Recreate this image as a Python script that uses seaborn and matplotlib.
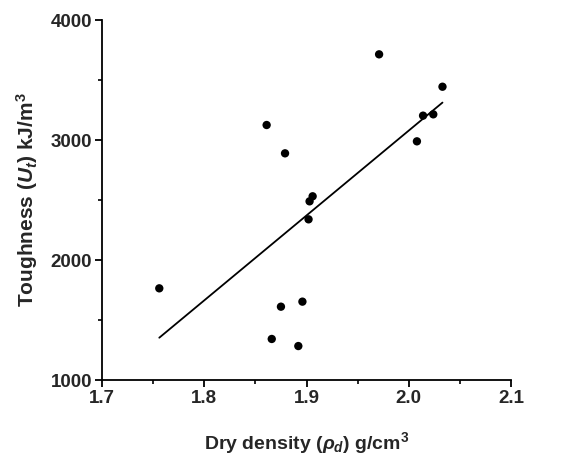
import matplotlib
matplotlib.use("Agg")
import matplotlib.pyplot as plt
from matplotlib.ticker import MultipleLocator
import seaborn as sns
import pandas as pd

dry_density = [1.756, 1.861, 1.879, 1.903, 1.906, 1.902, 1.971, 2.008,
               2.014, 2.024, 2.033, 1.875, 1.896, 1.866, 1.892]
toughness = [1764, 3125, 2889, 2489, 2531, 2339, 3714, 2989,
             3203, 3214, 3444, 1611, 1653, 1342, 1283]
x_ticks = [1.7, 1.8, 1.9, 2.0, 2.1]
y_ticks = [1000, 2000, 3000, 4000]

df = pd.DataFrame({"rho": dry_density, "U": toughness})

sns.set_theme(style="ticks")
plt.rcParams["font.family"] = ["Liberation Sans", "DejaVu Sans"]
plt.rcParams["font.weight"] = "bold"
plt.rcParams["mathtext.fontset"] = "custom"
plt.rcParams["mathtext.rm"] = "Liberation Sans:bold"
plt.rcParams["mathtext.it"] = "Liberation Sans:italic:bold"
plt.rcParams["mathtext.bf"] = "Liberation Sans:bold"

fig = plt.figure(figsize=(5.64, 4.59), dpi=100)
ax = fig.add_axes([0.1809, 0.1721, 0.906 - 0.1809, 0.9564 - 0.1721])

sns.regplot(data=df, x="rho", y="U", ax=ax, ci=None, truncate=True,
            scatter_kws=dict(s=36, color="black", edgecolor="none", alpha=1, zorder=3),
            line_kws=dict(color="black", lw=1.3))

ax.set_xlim(1.7, 2.1)
ax.set_ylim(1000, 4000)
ax.xaxis.set_minor_locator(MultipleLocator(0.05))
ax.yaxis.set_minor_locator(MultipleLocator(500))

for side in ["top", "right"]:
    ax.spines[side].set_visible(False)
for side in ["left", "bottom"]:
    ax.spines[side].set_linewidth(1.3)
    ax.spines[side].set_color("black")

ax.tick_params(which="major", direction="out", length=5, width=1.3,
               color="black", pad=2)
ax.tick_params(which="minor", direction="out", length=3, width=1.2, color="black")

ax.set_xticks(x_ticks)
ax.set_yticks(y_ticks)
ax.set_xticklabels([f"{v:.1f}" for v in x_ticks], fontsize=13.5, fontweight="bold")
ax.set_yticklabels([str(v) for v in y_ticks], fontsize=13.5, fontweight="bold")

ax.set_xlabel(r"Dry density ($\rho_d$) g/cm$^3$", fontsize=14, fontweight="bold", labelpad=17)
ax.set_ylabel(r"Toughness ($U_t$) kJ/m$^3$", fontsize=15, fontweight="bold", labelpad=8)

fig.savefig("out.png", dpi=100)
